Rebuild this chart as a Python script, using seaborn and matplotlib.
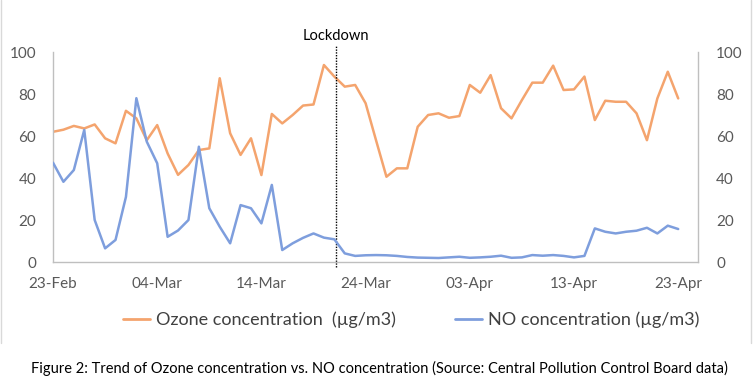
import matplotlib
matplotlib.use("Agg")
import matplotlib.dates as mdates
import matplotlib.pyplot as plt
from matplotlib.lines import Line2D
import numpy as np
import pandas as pd
import seaborn as sns

# ─── data (one value per day) ──────────────────────────────────────────────
START_DATE = "2020-02-23"
END_DATE = "2020-04-23"
LOCKDOWN_DATE = "2020-03-21 04:00"

ozone = [62, 63, 64.8, 63.6, 65.5, 58.9, 56.5, 72, 68.4, 58,
         65.2, 51.7, 41.5, 46.2, 53.3, 54.1, 87.5, 61.3, 51, 58.9,
         41.4, 70.5, 66, 70, 74.5, 75, 93.8, 88.3, 83.5, 84.3,
         75.6, 58, 40.6, 44.6, 44.6, 64.4, 70, 70.8, 68.7, 69.5,
         84.3, 80.6, 89, 73.2, 68.4, 77.1, 85.4, 85.4, 93.5, 81.9,
         82.2, 88.3, 67.6, 76.8, 76.3, 76.3, 70.8, 58, 77.9, 90.6,
         77.9]

no_conc = [47.3, 38.2, 43.8, 62.9, 20, 6.5, 10.5, 31, 78, 57.3,
           47, 12, 15, 20, 54.9, 25.6, 16.8, 8.9, 27.1, 25.6,
           18.4, 36.7, 5.7, 8.9, 11.5, 13.6, 11.6, 10.8, 4.1, 2.9,
           3.2, 3.3, 3.2, 2.9, 2.4, 2.1, 2, 1.9, 2.2, 2.5,
           2, 2.2, 2.5, 3, 2, 2.2, 3.3, 3, 3.3, 2.9,
           2.2, 2.9, 16, 14.4, 13.6, 14.4, 14.9, 16.3, 13.6, 17.3,
           15.7]

y_ticks = [0, 20, 40, 60, 80, 100]

OZONE_LABEL = "Ozone concentration  (\u00b5g/m3)"
NO_LABEL = "NO concentration (\u00b5g/m3)"
CAPTION = ("Figure 2: Trend of Ozone concentration vs. NO concentration "
           "(Source: Central Pollution Control Board data)")

OZONE_COLOR = "#F4A46E"
NO_COLOR = "#7E9EDD"
TEXT_GREY = "#595959"
SPINE_GREY = "#BFBFBF"

df = pd.DataFrame({
    "date": pd.date_range(START_DATE, END_DATE, freq="D"),
    "ozone": ozone,
    "no": no_conc,
})

sns.set_theme(style="white")
plt.rcParams["font.family"] = ["Lato", "DejaVu Sans"]

fig = plt.figure(figsize=(7.53, 3.91), dpi=100)
ax = fig.add_axes([53 / 753, 1 - 262 / 391, (698 - 53) / 753, 210 / 391])
ax2 = ax.twinx()

sns.lineplot(data=df, x="date", y="ozone", ax=ax, color=OZONE_COLOR,
             linewidth=1.8, legend=False)
sns.lineplot(data=df, x="date", y="no", ax=ax2, color=NO_COLOR,
             linewidth=1.8, legend=False)

x_left = pd.Timestamp(START_DATE)
x_right = pd.Timestamp(END_DATE) + pd.Timedelta(days=1.9)
for a in (ax, ax2):
    a.set_xlim(x_left, x_right)
    a.set_ylim(0, 100)
    a.set_yticks(y_ticks)
    a.set_xlabel("")
    a.set_ylabel("")
    for side in ("top", "left", "right", "bottom"):
        a.spines[side].set_visible(False)

ax.spines["left"].set_visible(True)
ax.spines["bottom"].set_visible(True)
ax2.spines["right"].set_visible(True)
for sp in (ax.spines["left"], ax.spines["bottom"], ax2.spines["right"]):
    sp.set_color(SPINE_GREY)
    sp.set_linewidth(1.0)

ax.set_xticks(pd.date_range(START_DATE, END_DATE, freq="10D"))
ax.xaxis.set_major_formatter(mdates.DateFormatter("%d-%b"))
ax.tick_params(axis="x", length=0, pad=11, labelsize=11, labelcolor=TEXT_GREY)
ax.tick_params(axis="y", length=0, pad=12, labelsize=11, labelcolor=TEXT_GREY)
ax2.tick_params(axis="y", length=0, pad=13, labelsize=11, labelcolor=TEXT_GREY)

# lockdown marker
lock = pd.Timestamp(LOCKDOWN_DATE)
ax.plot([lock, lock], [-2.5, 103.5], color="black", linestyle=(0, (1, 1)),
        linewidth=1.0, clip_on=False)
ax.text(lock, 107.5, "Lockdown", ha="center", va="center", fontsize=10.5,
        color="black", clip_on=False)

# legend below the plot
handles = [
    Line2D([], [], color=OZONE_COLOR, linewidth=2),
    Line2D([], [], color=NO_COLOR, linewidth=2),
]
leg = fig.legend(handles, [OZONE_LABEL, NO_LABEL], loc="center",
                 bbox_to_anchor=(411 / 753, 1 - 320 / 391), ncol=2,
                 frameon=False, fontsize=13, handlelength=1.5,
                 handletextpad=0.3, columnspacing=3.3)
for t in leg.get_texts():
    t.set_color("#404040")

# light chart-area border on the sides
for xpos in (1 / 753, 751 / 753):
    fig.add_artist(Line2D([xpos, xpos], [1 - 343 / 391, 1.0],
                          color="#D9D9D9", linewidth=1.0))

fig.text(379 / 753, 1 - 368 / 391, CAPTION, ha="center", va="center",
         fontsize=10.5, color="black")

fig.savefig("out.png", dpi=100)
plt.close(fig)
